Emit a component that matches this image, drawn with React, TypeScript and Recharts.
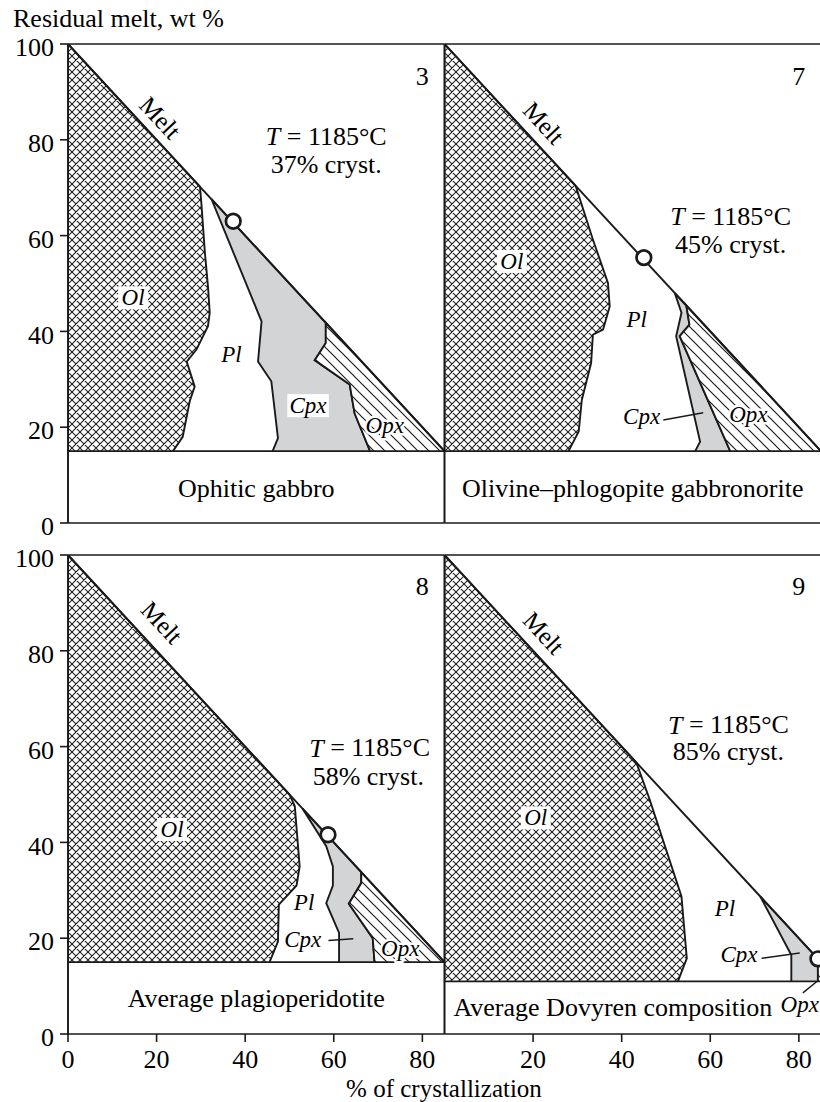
import React from 'react';
import { ComposedChart, Area, Line, Scatter, XAxis, YAxis, ReferenceLine } from 'recharts';

type P = { x: number; y: number };
type L = { x: number; y: number; text: string; kind: string };

// ---------- shared ----------
const MELT: P[] = [{ x: 0, y: 100 }, { x: 85, y: 15 }];
const Y_TICKS = [0, 20, 40, 60, 80, 100];
const X_TICKS_LEFT = [0, 20, 40, 60, 80];
const X_TICKS_RIGHT = [20, 40, 60, 80];

// ---------- panel 3 : Ophitic gabbro ----------
const p3Base = 15;
const p3Ol: P[] = [
  { x: 0, y: 15 }, { x: 0, y: 100 }, { x: 27.9, y: 72.1 }, { x: 29.8, y: 70.2 }, { x: 30.1, y: 66.9 },
  { x: 30.9, y: 56.5 }, { x: 31.6, y: 49.4 }, { x: 32.0, y: 43.9 }, { x: 31.6, y: 41.1 }, { x: 29.0, y: 36.2 },
  { x: 26.8, y: 33.7 }, { x: 28.6, y: 28.5 }, { x: 27.5, y: 25.5 }, { x: 25.9, y: 18 }, { x: 23.7, y: 15 },
];
const p3Cpx: P[] = [
  { x: 46.2, y: 15 }, { x: 47.4, y: 17.7 }, { x: 45.9, y: 29.6 }, { x: 42.9, y: 33.7 }, { x: 43.7, y: 42.1 },
  { x: 32.4, y: 67.6 }, { x: 58.2, y: 41.8 }, { x: 58.2, y: 37.6 }, { x: 55.7, y: 34.0 }, { x: 63.6, y: 28.9 },
  { x: 64.7, y: 22.9 }, { x: 68.2, y: 15 },
];
const p3Opx: P[] = [
  { x: 68.2, y: 15 }, { x: 64.7, y: 22.9 }, { x: 63.6, y: 28.9 }, { x: 55.7, y: 34.0 }, { x: 58.2, y: 37.6 },
  { x: 58.2, y: 41.8 }, { x: 85, y: 15 },
];
const p3Circle: P[] = [{ x: 37.3, y: 63 }];
const p3Leaders: P[][] = [];
const p3Labels: L[] = [
  { x: 20.8, y: 84.6, text: 'Melt', kind: 'melt' },
  { x: 80, y: 93.2, text: '3', kind: 'plain' },
  { x: 58.3, y: 80.7, text: 'T = 1185°C', kind: 'temp' },
  { x: 58.3, y: 74.8, text: '37% cryst.', kind: 'plain' },
  { x: 14.7, y: 47, text: 'Ol', kind: 'box' },
  { x: 36.9, y: 35.1, text: 'Pl', kind: 'min' },
  { x: 54.2, y: 24.5, text: 'Cpx', kind: 'box' },
  { x: 71.5, y: 20.4, text: 'Opx', kind: 'halo' },
  { x: 42.5, y: 7.2, text: 'Ophitic gabbro', kind: 'plain' },
];

// ---------- panel 7 : Olivine–phlogopite gabbronorite ----------
const p7Base = 15;
const p7Ol: P[] = [
  { x: 0, y: 15 }, { x: 0, y: 100 }, { x: 29.6, y: 70.4 }, { x: 33.5, y: 59.2 }, { x: 36.9, y: 50.1 },
  { x: 37.3, y: 45.2 }, { x: 35.8, y: 40.4 }, { x: 33.5, y: 39.3 }, { x: 33.1, y: 33.4 }, { x: 31.0, y: 25.7 },
  { x: 30.3, y: 19.1 }, { x: 28.0, y: 15 },
];
const p7Cpx: P[] = [
  { x: 56.6, y: 15 }, { x: 57.7, y: 17 }, { x: 52.3, y: 39 }, { x: 53.5, y: 43.9 }, { x: 52, y: 48 },
  { x: 54.6, y: 45.4 }, { x: 55.3, y: 41.4 }, { x: 53.1, y: 39 }, { x: 64.5, y: 15 },
];
const p7Opx: P[] = [
  { x: 64.5, y: 15 }, { x: 53.1, y: 39 }, { x: 55.3, y: 41.4 }, { x: 54.6, y: 45.4 }, { x: 85, y: 15 },
];
const p7Circle: P[] = [{ x: 45, y: 55.4 }];
const p7Leaders: P[][] = [[{ x: 49.4, y: 21.5 }, { x: 58.4, y: 23.0 }]];
const p7Labels: L[] = [
  { x: 22.4, y: 83.5, text: 'Melt', kind: 'melt' },
  { x: 80, y: 93.2, text: '7', kind: 'plain' },
  { x: 64.6, y: 64, text: 'T = 1185°C', kind: 'temp' },
  { x: 64.6, y: 58.2, text: '45% cryst.', kind: 'plain' },
  { x: 15.2, y: 54.6, text: 'Ol', kind: 'box' },
  { x: 43.4, y: 42.5, text: 'Pl', kind: 'min' },
  { x: 44.5, y: 22.2, text: 'Cpx', kind: 'min' },
  { x: 68.6, y: 22.6, text: 'Opx', kind: 'halo' },
  { x: 42.5, y: 7.2, text: 'Olivine–phlogopite gabbronorite', kind: 'plain' },
];

// ---------- panel 8 : Average plagioperidotite ----------
const p8Base = 15;
const p8Ol: P[] = [
  { x: 0, y: 15 }, { x: 0, y: 100 }, { x: 50, y: 50 }, { x: 51.2, y: 47.6 }, { x: 52.3, y: 35 },
  { x: 51.6, y: 31 }, { x: 47.6, y: 27 }, { x: 47.4, y: 19.3 }, { x: 45.5, y: 15 },
];
const p8Cpx: P[] = [
  { x: 61.2, y: 15 }, { x: 61.2, y: 21.1 }, { x: 58.3, y: 27.3 }, { x: 59.8, y: 31 }, { x: 59.8, y: 35 },
  { x: 58.3, y: 39.2 }, { x: 53, y: 47 }, { x: 66.2, y: 33.8 }, { x: 66.2, y: 31.5 }, { x: 63.4, y: 27.2 },
  { x: 68.8, y: 20 }, { x: 69.2, y: 15 },
];
const p8Opx: P[] = [
  { x: 69.2, y: 15 }, { x: 68.8, y: 20 }, { x: 63.4, y: 27.2 }, { x: 66.2, y: 31.5 }, { x: 66.2, y: 33.8 },
  { x: 85, y: 15 },
];
const p8Circle: P[] = [{ x: 58.7, y: 41.6 }];
const p8Leaders: P[][] = [[{ x: 58.8, y: 19.5 }, { x: 64.4, y: 19.9 }]];
const p8Labels: L[] = [
  { x: 21.2, y: 85.9, text: 'Melt', kind: 'melt' },
  { x: 80, y: 93.4, text: '8', kind: 'plain' },
  { x: 68.1, y: 59.8, text: 'T = 1185°C', kind: 'temp' },
  { x: 67.8, y: 53.8, text: '58% cryst.', kind: 'plain' },
  { x: 23.5, y: 42.7, text: 'Ol', kind: 'box' },
  { x: 53.3, y: 27.5, text: 'Pl', kind: 'min' },
  { x: 53.0, y: 19.8, text: 'Cpx', kind: 'min' },
  { x: 75, y: 17.9, text: 'Opx', kind: 'halo' },
  { x: 42.5, y: 7.5, text: 'Average plagioperidotite', kind: 'plain' },
];

// ---------- panel 9 : Average Dovyren composition ----------
const p9Base = 11;
const p9Ol: P[] = [
  { x: 0, y: 11 }, { x: 0, y: 100 }, { x: 43.3, y: 56.7 }, { x: 46.3, y: 49 }, { x: 53.5, y: 28.7 },
  { x: 54.7, y: 15.8 }, { x: 52.7, y: 11 },
];
const p9Cpx: P[] = [
  { x: 78.3, y: 11 }, { x: 78.3, y: 16.5 }, { x: 71.3, y: 28.7 }, { x: 84.3, y: 15.7 }, { x: 84.3, y: 11 },
];
const p9Opx: P[] = [
  { x: 84.3, y: 11 }, { x: 84.3, y: 15.7 }, { x: 85, y: 15 }, { x: 85, y: 11 },
];
const p9Circle: P[] = [{ x: 84.3, y: 15.7 }];
const p9Leaders: P[][] = [
  [{ x: 71.6, y: 15.8 }, { x: 80.2, y: 16.9 }],
  [{ x: 80.9, y: 8.6 }, { x: 84.0, y: 10.9 }],
];
const p9Labels: L[] = [
  { x: 22.4, y: 83.7, text: 'Melt', kind: 'melt' },
  { x: 80, y: 93.4, text: '9', kind: 'plain' },
  { x: 64.1, y: 64.6, text: 'T = 1185°C', kind: 'temp' },
  { x: 64.1, y: 59, text: '85% cryst.', kind: 'plain' },
  { x: 20.6, y: 45.1, text: 'Ol', kind: 'box' },
  { x: 63.3, y: 26.3, text: 'Pl', kind: 'min' },
  { x: 66.5, y: 16.5, text: 'Cpx', kind: 'min' },
  { x: 80.2, y: 6.1, text: 'Opx', kind: 'min' },
  { x: 38, y: 5.6, text: 'Average Dovyren composition', kind: 'plain' },
];

// ---------- styles ----------
const SERIF = '"Liberation Serif", "Times New Roman", serif';
const INK = '#1a1a1a';
const GRAY = '#d3d4d6';
const AXIS = { stroke: INK, strokeWidth: 1.6 };
const FS = 26;
const FS_MIN = 23;
const TICK_X = { fill: '#000', fontSize: FS, fontFamily: SERIF };
const TICK_Y = { fill: '#000', fontSize: FS, fontFamily: SERIF, dy: 3 };

const renderLabel = (props: any) => {
  const { cx, cy, payload } = props;
  if (cx == null || cy == null || !payload) return <g />;
  const t: string = payload.text;
  const k: string = payload.kind;
  const common = { x: cx, y: cy, textAnchor: 'middle' as const, dominantBaseline: 'central' as const, fontFamily: SERIF, fill: '#000' };
  if (k === 'melt') {
    return <text {...common} fontSize={25} transform={`rotate(47.2 ${cx} ${cy})`}>{t}</text>;
  }
  if (k === 'temp') {
    return (
      <text {...common} fontSize={FS}>
        <tspan fontStyle="italic">{t.slice(0, 1)}</tspan>
        {t.slice(1)}
      </text>
    );
  }
  if (k === 'box') {
    const w = t.length * 11.5 + 7;
    return (
      <g>
        <rect x={cx - w / 2} y={cy - 11.5} width={w} height={23} fill="#fff" />
        <text {...common} fontSize={FS_MIN} fontStyle="italic">{t}</text>
      </g>
    );
  }
  if (k === 'halo') {
    return (
      <text {...common} fontSize={FS_MIN} fontStyle="italic" stroke="#fff" strokeWidth={5} strokeLinejoin="round" paintOrder="stroke">{t}</text>
    );
  }
  if (k === 'min') {
    return <text {...common} fontSize={FS_MIN} fontStyle="italic">{t}</text>;
  }
  return <text {...common} fontSize={FS}>{t}</text>;
};

const renderCircle = (props: any) => {
  const { cx, cy } = props;
  if (cx == null || cy == null) return <g />;
  return <circle cx={cx} cy={cy} r={7.3} fill="#fff" stroke={INK} strokeWidth={2.7} />;
};

type PanelProps = {
  id: string; left: number; top: number; width: number; height: number;
  margin: { top: number; right: number; bottom: number; left: number };
  showY: boolean; showXLabels: boolean; xTicks: number[];
  ol: P[]; cpx: P[]; opx: P[]; base: number; circle: P[]; leaders: P[][]; labels: L[];
};

function Panel(p: PanelProps) {
  const xh = `xh-${p.id}`;
  const dh = `dh-${p.id}`;
  return (
    <div style={{ position: 'absolute', left: p.left, top: p.top }}>
      <ComposedChart width={p.width} height={p.height} margin={p.margin}>
        <defs>
          <pattern id={xh} patternUnits="userSpaceOnUse" width={8} height={8}>
            <rect width={8} height={8} fill="#fff" />
            <path d="M0,0 L8,8 M-1,7 L1,9 M7,-1 L9,1 M0,8 L8,0 M-1,1 L1,-1 M7,9 L9,7" stroke="#1e1e1e" strokeWidth={1.05} />
          </pattern>
          <pattern id={dh} patternUnits="userSpaceOnUse" width={11} height={11}>
            <rect width={11} height={11} fill="#fff" />
            <path d="M0,0 L11,11 M-3,8 L3,14 M8,-3 L14,3" stroke="#1e1e1e" strokeWidth={1.2} />
          </pattern>
        </defs>
        <XAxis
          type="number" dataKey="x" domain={[0, 85]} allowDataOverflow ticks={p.xTicks} interval={0}
          tickSize={8} tickMargin={8} height={30} axisLine={AXIS} tickLine={AXIS}
          tick={p.showXLabels ? TICK_X : false}
        />
        <YAxis
          type="number" dataKey="y" domain={[0, 100]} allowDataOverflow ticks={Y_TICKS} interval={0}
          tickSize={8} tickMargin={6} width={60} hide={!p.showY} axisLine={AXIS} tickLine={AXIS} tick={TICK_Y}
        />
        <Area data={p.ol} dataKey="y" type="linear" baseValue={p.base} fill={`url(#${xh})`} fillOpacity={1}
          stroke={INK} strokeWidth={1.9} dot={false} activeDot={false} isAnimationActive={false} />
        <Area data={p.cpx} dataKey="y" type="linear" baseValue={p.base} fill={GRAY} fillOpacity={1}
          stroke={INK} strokeWidth={1.9} dot={false} activeDot={false} isAnimationActive={false} />
        <Area data={p.opx} dataKey="y" type="linear" baseValue={p.base} fill={`url(#${dh})`} fillOpacity={1}
          stroke={INK} strokeWidth={1.9} dot={false} activeDot={false} isAnimationActive={false} />
        <Line data={MELT} dataKey="y" type="linear" stroke={INK} strokeWidth={1.9} dot={false} activeDot={false} isAnimationActive={false} />
        {p.leaders.map((seg, i) => (
          <Line key={i} data={seg} dataKey="y" type="linear" stroke={INK} strokeWidth={1.5} dot={false} activeDot={false} isAnimationActive={false} />
        ))}
        <ReferenceLine y={p.base} stroke={INK} strokeWidth={1.7} />
        <ReferenceLine y={100} stroke={INK} strokeWidth={1.6} />
        <ReferenceLine x={0} stroke={INK} strokeWidth={1.6} />
        <ReferenceLine x={85} stroke={INK} strokeWidth={1.6} />
        <Scatter data={p.circle} dataKey="y" shape={renderCircle} isAnimationActive={false} />
        <Scatter data={p.labels} dataKey="y" shape={renderLabel} isAnimationActive={false} />
      </ComposedChart>
    </div>
  );
}

export default function App() {
  const topM = { top: 44, right: 5.5, bottom: 7, left: 8 };
  const topMR = { top: 44, right: 4, bottom: 7, left: 4.5 };
  const botM = { top: 35, right: 5.5, bottom: 38, left: 8 };
  const botMR = { top: 35, right: 4, bottom: 38, left: 4.5 };
  return (
    <div style={{ position: 'absolute', left: 0, top: 0, width: 820, height: 1102, overflow: 'hidden', background: '#fff' }}>
      <Panel id="p3" left={0} top={0} width={450} height={560} margin={topM} showY showXLabels={false}
        xTicks={X_TICKS_LEFT} ol={p3Ol} cpx={p3Cpx} opx={p3Opx} base={p3Base} circle={p3Circle} leaders={p3Leaders} labels={p3Labels} />
      <Panel id="p7" left={440} top={0} width={385} height={560} margin={topMR} showY={false} showXLabels={false}
        xTicks={X_TICKS_RIGHT} ol={p7Ol} cpx={p7Cpx} opx={p7Opx} base={p7Base} circle={p7Circle} leaders={p7Leaders} labels={p7Labels} />
      <Panel id="p8" left={0} top={520} width={450} height={582} margin={botM} showY showXLabels
        xTicks={X_TICKS_LEFT} ol={p8Ol} cpx={p8Cpx} opx={p8Opx} base={p8Base} circle={p8Circle} leaders={p8Leaders} labels={p8Labels} />
      <Panel id="p9" left={440} top={520} width={385} height={582} margin={botMR} showY={false} showXLabels
        xTicks={X_TICKS_RIGHT} ol={p9Ol} cpx={p9Cpx} opx={p9Opx} base={p9Base} circle={p9Circle} leaders={p9Leaders} labels={p9Labels} />
      <svg width={820} height={1102} style={{ position: 'absolute', left: 0, top: 0, pointerEvents: 'none' }}>
        <text x={13} y={27} fontFamily={SERIF} fontSize={FS} fill="#000">Residual melt, wt %</text>
        <text x={444} y={1097} textAnchor="middle" fontFamily={SERIF} fontSize={25} fill="#000">% of crystallization</text>
      </svg>
    </div>
  );
}
